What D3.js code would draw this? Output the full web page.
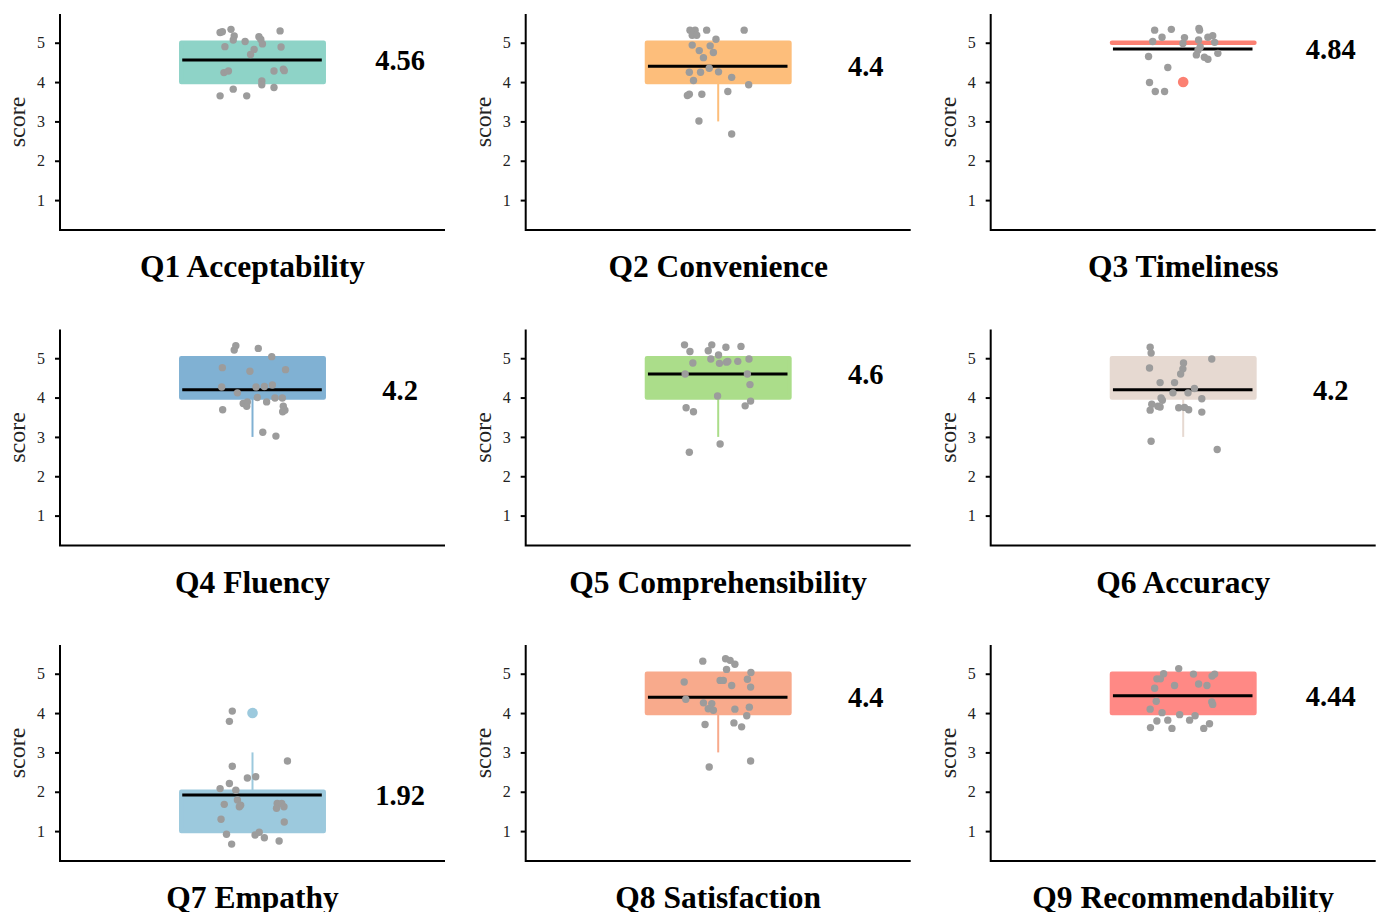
<!DOCTYPE html>
<html>
<head>
<meta charset="utf-8">
<script src="https://cdn.jsdelivr.net/npm/d3@7"></script>
<style>
  body { margin: 0; background: #fff; }
  svg { display: block; }
  text { font-family: "Liberation Serif", "Times New Roman", serif; fill: #000; }
</style>
</head>
<body>
<div class="chart"></div>
<script>
const titles = ["Q1 Acceptability", "Q2 Convenience", "Q3 Timeliness",
  "Q4 Fluency", "Q5 Comprehensibility", "Q6 Accuracy",
  "Q7 Empathy", "Q8 Satisfaction", "Q9 Recommendability"];
const meanLabels = ["4.56", "4.4", "4.84", "4.2", "4.6", "4.2", "1.92", "4.4", "4.44"];
const means = [4.56, 4.4, 4.84, 4.2, 4.6, 4.2, 1.92, 4.4, 4.44];
const boxLow = [4, 4, 5, 4, 4, 4, 1, 4, 4];
const boxHigh = [5, 5, 5, 5, 5, 5, 2, 5, 5];
const whiskerLow = [4, 3, 5, 3, 3, 3, 1, 3, 4];
const whiskerHigh = [5, 5, 5, 5, 5, 5, 3, 5, 5];
const outliers = [[], [], [4], [], [], [], [4], [], []];
const fills = ["#8ed3c7", "#fdbe7b", "#fb8072", "#80b1d3", "#abdd8a", "#e6d9d1", "#9cc9dd", "#f8aa8c", "#ff8985"];
const yTicks = [1, 2, 3, 4, 5];

// jittered points: [x offset from category centre, score]
const points1 = [[-0.101,5.26],[-0.094,5.28],[-0.067,5.34],[-0.057,5.17],[-0.060,5.07],[-0.023,5.03],[0.020,5.15],[0.026,5.08],[0.031,4.97],[0.086,5.30],[-0.086,4.90],[0.089,4.89],[0.005,4.83],[-0.006,4.70],[-0.089,4.24],[-0.075,4.28],[0.067,4.28],[0.096,4.33],[0.099,4.29],[0.029,4.03],[0.029,3.93],[0.067,3.86],[-0.060,3.82],[-0.101,3.65],[-0.018,3.65]];
const points2 = [[-0.088,5.32],[-0.072,5.32],[-0.081,5.19],[-0.067,5.19],[-0.036,5.32],[0.081,5.32],[-0.007,5.09],[-0.081,4.94],[-0.025,4.92],[-0.059,4.80],[-0.015,4.75],[-0.046,4.62],[-0.028,4.35],[-0.090,4.25],[-0.055,4.25],[0.001,4.26],[0.042,4.12],[-0.077,4.04],[0.095,3.93],[-0.090,3.69],[-0.096,3.66],[-0.051,3.69],[0.030,3.76],[-0.060,3.01],[0.042,2.68]];
const points3 = [[-0.089,5.32],[-0.037,5.34],[-0.066,5.14],[-0.095,5.03],[0.004,5.13],[-0.001,4.98],[0.049,5.36],[0.051,5.32],[0.048,5.07],[0.077,5.14],[0.092,5.18],[0.098,5.01],[0.053,4.89],[0.046,4.81],[0.041,4.69],[0.066,4.63],[0.077,4.58],[0.108,4.73],[-0.108,4.65],[-0.048,4.37],[-0.105,3.99],[-0.087,3.76],[-0.058,3.76]];
const points4 = [[-0.052,5.32],[-0.057,5.21],[0.018,5.25],[0.060,5.04],[-0.094,4.76],[-0.008,4.67],[0.103,4.71],[-0.096,4.27],[-0.047,4.12],[0.011,4.27],[0.037,4.28],[0.062,4.32],[0.015,4.00],[0.070,3.99],[0.093,3.99],[-0.029,3.85],[-0.018,3.78],[-0.016,3.89],[0.044,3.89],[0.096,3.78],[0.101,3.68],[0.094,3.64],[-0.093,3.69],[0.032,3.12],[0.073,3.02]];
const points5 = [[-0.105,5.34],[-0.020,5.34],[0.024,5.28],[0.071,5.30],[-0.088,5.17],[-0.031,5.19],[0.001,5.08],[-0.023,4.98],[-0.079,4.88],[0.004,4.87],[0.026,4.90],[0.061,4.92],[0.096,4.98],[0.030,4.92],[-0.103,4.60],[0.091,4.60],[0.099,4.33],[-0.002,4.04],[0.101,3.91],[0.084,3.79],[-0.100,3.74],[-0.077,3.64],[0.006,2.82],[-0.090,2.61]];
const points6 = [[-0.103,5.28],[-0.100,5.13],[0.089,4.98],[-0.105,4.75],[0.001,4.88],[-0.001,4.73],[-0.008,4.60],[-0.072,4.38],[-0.027,4.38],[0.035,4.23],[-0.032,4.12],[0.015,4.12],[-0.069,3.99],[-0.065,3.93],[0.058,3.97],[-0.098,3.83],[-0.079,3.78],[-0.072,3.76],[-0.014,3.74],[0.004,3.75],[0.017,3.69],[-0.103,3.68],[0.058,3.63],[-0.100,2.89],[0.106,2.68]];
const points7 = [[-0.063,4.05],[-0.072,3.79],[0.109,2.78],[-0.063,2.65],[-0.016,2.35],[0.010,2.38],[-0.072,2.21],[-0.101,2.08],[-0.052,2.04],[-0.047,1.79],[-0.037,1.66],[-0.041,1.62],[-0.088,1.68],[0.077,1.70],[0.091,1.70],[0.098,1.62],[0.075,1.58],[-0.098,1.30],[0.099,1.23],[-0.081,0.92],[0.008,0.90],[0.021,0.97],[0.037,0.83],[0.083,0.75],[-0.065,0.67]];
const points8 = [[-0.048,5.32],[0.023,5.38],[0.037,5.34],[0.052,5.24],[0.026,5.11],[0.102,5.03],[-0.106,4.79],[0.006,4.83],[0.016,4.83],[0.042,4.70],[0.091,4.86],[0.101,4.66],[-0.101,4.35],[-0.046,4.26],[-0.020,4.24],[-0.031,4.11],[-0.015,4.07],[0.052,4.10],[0.097,4.15],[0.089,3.93],[-0.041,3.71],[0.049,3.75],[0.073,3.65],[0.101,2.78],[-0.028,2.63]];
const points9 = [[-0.014,5.13],[-0.061,5.00],[0.032,4.99],[0.098,4.99],[0.090,4.94],[-0.082,4.87],[-0.071,4.87],[-0.027,4.70],[0.048,4.74],[0.074,4.70],[-0.089,4.63],[-0.084,4.30],[0.089,4.28],[0.092,4.22],[-0.103,4.10],[-0.066,4.01],[-0.011,3.96],[0.037,3.93],[-0.048,3.82],[-0.082,3.80],[0.020,3.82],[0.082,3.73],[-0.102,3.63],[-0.035,3.61],[0.064,3.61]];
const allPoints = [points1, points2, points3, points4, points5, points6, points7, points8, points9];

const width = 1379;
const height = 912;
const colX = [60, 525.7, 990.7];
const rowY = [14, 329.5, 645];
const panelW = 385;
const panelH = 216;
const boxHalf = 0.222;
const serif = '"Liberation Serif", "Times New Roman", serif';

const svg = d3.select('.chart').append('svg')
    .attr('width', width)
    .attr('height', height);

const x = d3.scaleLinear().domain([0.4, 1.6]).range([0, panelW]);
const y = d3.scaleLinear().domain([0.24, 5.73]).range([panelH, 0]);

titles.forEach((title, i) => {
    const g = svg.append('g')
        .attr('transform', `translate(${colX[i % 3]},${rowY[Math.floor(i / 3)]})`);
    const fill = fills[i];

    // box drawn as a path so a zero-height box (Q3) still shows its outline
    const bx0 = x(1 - boxHalf), bx1 = x(1 + boxHalf);
    const by0 = y(boxHigh[i]), by1 = y(boxLow[i]);
    g.append('path')
        .attr('d', `M${bx0},${by0}H${bx1}V${by1}H${bx0}Z`)
        .attr('fill', fill)
        .attr('stroke', fill)
        .attr('stroke-width', 4.5)
        .attr('stroke-linejoin', 'round');

    // whiskers
    const whiskers = [[whiskerLow[i], boxLow[i]], [boxHigh[i], whiskerHigh[i]]]
        .filter(d => d[0] !== d[1]);
    g.selectAll('.whisker')
        .data(whiskers)
        .join('line')
        .attr('class', 'whisker')
        .attr('x1', x(1)).attr('x2', x(1))
        .attr('y1', d => y(d[0]))
        .attr('y2', d => y(d[1]))
        .attr('stroke', fill)
        .attr('stroke-width', 2);

    // mean line
    g.append('line')
        .attr('x1', x(1 - boxHalf + 0.003))
        .attr('x2', x(1 + boxHalf - 0.006))
        .attr('y1', y(means[i]))
        .attr('y2', y(means[i]))
        .attr('stroke', '#000')
        .attr('stroke-width', 3);

    g.selectAll('.outlier')
        .data(outliers[i])
        .join('circle')
        .attr('class', 'outlier')
        .attr('cx', x(1))
        .attr('cy', d => y(d))
        .attr('r', 5.3)
        .attr('fill', fill);

    g.selectAll('.pt')
        .data(allPoints[i])
        .join('circle')
        .attr('class', 'pt')
        .attr('cx', d => x(1 + d[0]))
        .attr('cy', d => y(d[1]))
        .attr('r', 3.7)
        .attr('fill', '#9c9c9c');

    // axes
    const yAxis = g.append('g')
        .attr('font-family', serif)
        .attr('font-size', 16)
        .call(d3.axisLeft(y).tickValues(yTicks).tickSize(5).tickPadding(10).tickFormat(d3.format('d')));
    yAxis.select('.domain').remove();
    yAxis.selectAll('line').attr('stroke', '#000').attr('stroke-width', 2);
    yAxis.selectAll('text')
        .style('font-family', serif)
        .style('font-size', '16px')
        .style('fill', '#222');

    g.append('path')
        .attr('d', `M0,0V${panelH}H${panelW}`)
        .attr('fill', 'none')
        .attr('stroke', '#000')
        .attr('stroke-width', 2);

    g.append('text')
        .attr('transform', `translate(-35,${panelH / 2}) rotate(-90)`)
        .attr('text-anchor', 'middle')
        .style('font-size', '24px')
        .style('fill', '#222')
        .text('score');

    g.append('text')
        .attr('x', x(1.46))
        .attr('y', y(means[i]))
        .attr('dy', '0.35em')
        .attr('text-anchor', 'middle')
        .style('font-size', '28.5px')
        .style('font-weight', 'bold')
        .text(meanLabels[i]);

    g.append('text')
        .attr('x', panelW / 2)
        .attr('y', panelH + 47)
        .attr('text-anchor', 'middle')
        .style('font-size', '31.5px')
        .style('font-weight', 'bold')
        .text(title);
});
</script>
</body>
</html>
